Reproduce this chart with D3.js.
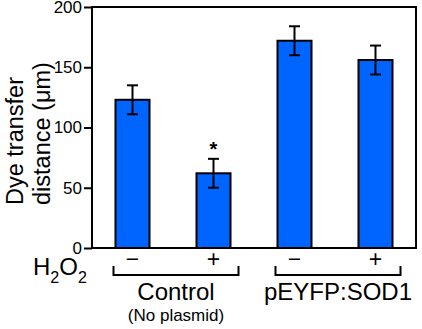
<!DOCTYPE html>
<html>
<head>
    <meta charset="UTF-8" />
    <style>
        body { margin: 0; background: #fff; }
        svg text { font-family: "Liberation Sans", Arial, sans-serif; fill: #000; }
    </style>
</head>
<body>
    <div id="chart"></div>
    <script src="https://d3js.org/d3.v7.min.js"></script>
    <script>
        // values
        const groups = ["Control", "pEYFP:SOD1"];
        const groupSub = ["(No plasmid)", ""];
        const barGroup = [0, 0, 1, 1];
        const h2o2 = ["\u2212", "+", "\u2212", "+"];
        const means = [123, 62, 172, 156];
        const errs = [12, 12, 12, 12];
        const marks = ["", "*", "", ""];
        const yTicks = [0, 50, 100, 150, 200];

        let width = 422, height = 329;
        let mLeft = 92, mRight = 416, mTop = 7, mBottom = 248;

        let svg = d3.select("#chart").append("svg")
            .attr("width", width)
            .attr("height", height);

        let x = d3.scaleBand()
            .domain(d3.range(means.length))
            .range([mLeft, mRight])
            .paddingInner(0.58)
            .paddingOuter(0.29);

        let y = d3.scaleLinear()
            .domain([0, 200])
            .range([mBottom, mTop]);

        let bw = x.bandwidth();

        // bars
        svg.selectAll("rect.bar")
            .data(means)
            .enter().append("rect")
            .attr("class", "bar")
            .attr("x", (d, i) => x(i))
            .attr("y", d => y(d))
            .attr("width", bw)
            .attr("height", d => y(0) - y(d))
            .attr("fill", "#0064ff")
            .attr("stroke", "#000")
            .attr("stroke-width", 2);

        // error bars
        let eb = svg.selectAll("g.err")
            .data(means)
            .enter().append("g")
            .attr("class", "err")
            .attr("stroke", "#000")
            .attr("stroke-width", 2);
        eb.append("line")
            .attr("x1", (d, i) => x(i) + bw / 2)
            .attr("x2", (d, i) => x(i) + bw / 2)
            .attr("y1", (d, i) => y(d + errs[i]))
            .attr("y2", (d, i) => y(d - errs[i]));
        eb.append("line")
            .attr("x1", (d, i) => x(i) + bw / 2 - 5.5)
            .attr("x2", (d, i) => x(i) + bw / 2 + 5.5)
            .attr("y1", (d, i) => y(d + errs[i]))
            .attr("y2", (d, i) => y(d + errs[i]));
        eb.append("line")
            .attr("x1", (d, i) => x(i) + bw / 2 - 5.5)
            .attr("x2", (d, i) => x(i) + bw / 2 + 5.5)
            .attr("y1", (d, i) => y(d - errs[i]))
            .attr("y2", (d, i) => y(d - errs[i]));

        // significance star
        svg.selectAll("text.star")
            .data(marks)
            .enter().append("text")
            .attr("class", "star")
            .attr("x", (d, i) => x(i) + bw / 2)
            .attr("y", (d, i) => y(means[i] + errs[i]) - 3)
            .attr("text-anchor", "middle")
            .style("font-size", "20px")
            .style("font-weight", "bold")
            .text(d => d);

        // y axis
        let yAxis = svg.append("g")
            .attr("transform", "translate(" + mLeft + ",0)")
            .call(d3.axisLeft(y).tickValues(yTicks).tickSize(8).tickPadding(2).tickSizeOuter(0));
        yAxis.select(".domain").remove();
        yAxis.selectAll(".tick line").attr("stroke", "#000").attr("stroke-width", 2);
        yAxis.selectAll(".tick text")
            .style("font-size", "17px")
            .style("font-family", "'Liberation Sans', Arial, sans-serif");

        // frame around plot
        svg.append("rect")
            .attr("x", mLeft)
            .attr("y", mTop)
            .attr("width", mRight - mLeft)
            .attr("height", mBottom - mTop)
            .attr("fill", "none")
            .attr("stroke", "#000")
            .attr("stroke-width", 2);

        // y title (two lines, rotated)
        let ytitle = svg.append("text")
            .attr("transform", "translate(23,205) rotate(-90)")
            .style("font-size", "23.5px");
        ytitle.append("tspan").attr("x", 0).attr("y", 0).text("Dye transfer");
        ytitle.append("tspan").attr("x", 0).attr("y", 27).text("distance (\u03bcm)");

        // H2O2 row
        svg.selectAll("text.h2o2")
            .data(h2o2)
            .enter().append("text")
            .attr("class", "h2o2")
            .attr("x", (d, i) => x(i) + bw / 2)
            .attr("y", 267)
            .attr("text-anchor", "middle")
            .style("font-size", "23px")
            .text(d => d);

        let hLabel = svg.append("text")
            .attr("x", 33)
            .attr("y", 275)
            .style("font-size", "24px");
        hLabel.append("tspan").text("H");
        hLabel.append("tspan").attr("dy", 8).style("font-size", "16px").text("2");
        hLabel.append("tspan").attr("dy", -8).text("O");
        hLabel.append("tspan").attr("dy", 8).style("font-size", "16px").text("2");

        // group brackets
        groups.forEach((g, k) => {
            let idx = barGroup.map((b, i) => b === k ? i : -1).filter(i => i >= 0);
            let x0 = x(idx[0]) + bw / 2 - 19;
            let x1 = x(idx[idx.length - 1]) + bw / 2 + 25;
            svg.append("path")
                .attr("d", "M" + x0 + ",266V275H" + x1 + "V266")
                .attr("fill", "none")
                .attr("stroke", "#000")
                .attr("stroke-width", 2);
            let cx = (x0 + x1) / 2;
            svg.append("text")
                .attr("x", cx)
                .attr("y", 300)
                .attr("text-anchor", "middle")
                .style("font-size", "24px")
                .text(g);
            if (groupSub[k]) {
                svg.append("text")
                    .attr("x", cx)
                    .attr("y", 321)
                    .attr("text-anchor", "middle")
                    .style("font-size", "17px")
                    .text(groupSub[k]);
            }
        });
    </script>
</body>
</html>
